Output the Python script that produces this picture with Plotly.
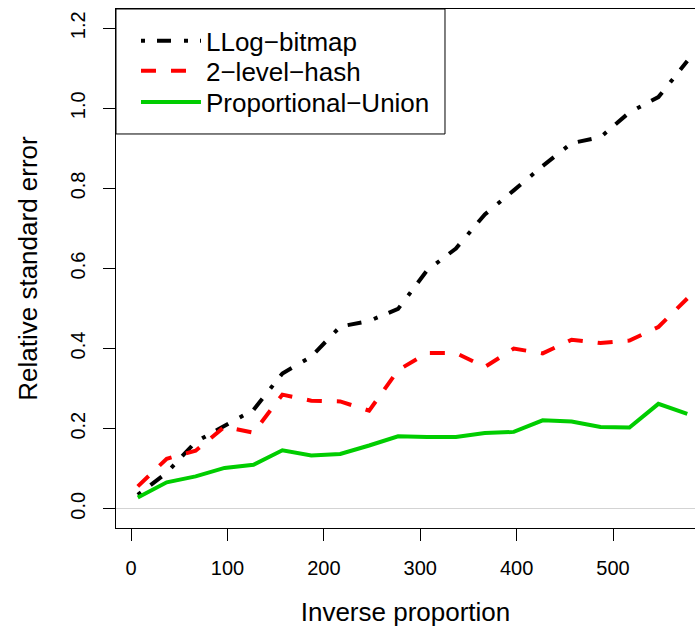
import plotly.graph_objects as go

x_vals = [7, 37, 67, 97, 127, 157, 187, 217, 247, 277,
          307, 337, 367, 397, 427, 457, 487, 517, 547, 577]

llog_bitmap = [0.035, 0.090, 0.167, 0.207, 0.247, 0.338, 0.380, 0.455, 0.469, 0.499,
               0.595, 0.650, 0.735, 0.795, 0.856, 0.913, 0.928, 0.990, 1.028, 1.118]

two_level_hash = [0.056, 0.125, 0.145, 0.205, 0.190, 0.285, 0.270, 0.268, 0.245, 0.346,
                  0.389, 0.389, 0.354, 0.400, 0.388, 0.422, 0.414, 0.420, 0.454, 0.525]

proportional_union = [0.028, 0.066, 0.081, 0.102, 0.110, 0.146, 0.133, 0.137, 0.158, 0.181,
                      0.179, 0.179, 0.189, 0.192, 0.221, 0.218, 0.204, 0.203, 0.262, 0.237]

series_names = ["LLog\u2212bitmap", "2\u2212level\u2212hash", "Proportional\u2212Union"]

x_ticks = [0, 100, 200, 300, 400, 500]
y_ticks = [0.0, 0.2, 0.4, 0.6, 0.8, 1.0, 1.2]

FONT = "Liberation Sans, Arial, Helvetica, sans-serif"

fig = go.Figure()
fig.add_trace(go.Scatter(x=x_vals, y=llog_bitmap, mode="lines", name=series_names[0],
                         legend="legend",
                         line=dict(color="black", width=4, dash="4px,12px,14px,13px")))
fig.add_trace(go.Scatter(x=x_vals, y=two_level_hash, mode="lines", name=series_names[1],
                         legend="legend2",
                         line=dict(color="#ff0000", width=4, dash="15px,15px")))
fig.add_trace(go.Scatter(x=x_vals, y=proportional_union, mode="lines", name=series_names[2],
                         legend="legend3",
                         line=dict(color="#00cd00", width=4)))

legend_common = dict(x=0.0345, xanchor="left", yanchor="middle",
                     bgcolor="rgba(0,0,0,0)", borderwidth=0,
                     font=dict(size=26, family=FONT, color="black"), itemwidth=60)

# legend frame (white box with black border, top-left of the plot area)
fig.add_shape(type="rect", xref="paper", yref="paper", x0=0, x1=0.5682, y0=0.7592, y1=1.0,
              line=dict(color="black", width=1), fillcolor="white", layer="above")

fig.update_layout(
    width=695, height=627,
    margin=dict(l=116, r=0, t=9, b=99),
    paper_bgcolor="white", plot_bgcolor="white",
    font=dict(family=FONT, color="black", size=20),
    showlegend=True,
    legend=dict(y=0.9384, **legend_common),
    legend2=dict(y=0.8806, **legend_common),
    legend3=dict(y=0.8208, **legend_common),
    xaxis=dict(range=[-15.6, 585], tickvals=x_ticks, ticks="outside", ticklen=12,
               tickwidth=1, tickcolor="black", showgrid=False, zeroline=False,
               showline=True, linecolor="black", linewidth=1, mirror=True,
               tickfont=dict(size=20), ticklabelstandoff=10,
               title=dict(text="Inverse proportion", font=dict(size=26), standoff=25)),
    yaxis=dict(range=[-0.048, 1.248], tickvals=y_ticks, tickformat=".1f", ticks="outside",
               ticklen=12, tickwidth=1, tickcolor="black", showgrid=False,
               zeroline=True, zerolinecolor="#d3d3d3", zerolinewidth=1,
               showline=True, linecolor="black", linewidth=1, mirror=False,
               tickangle=-90, tickfont=dict(size=20), ticklabelstandoff=10,
               title=dict(text="Relative standard error", font=dict(size=26), standoff=21)),
)

fig.write_html("out.html")
